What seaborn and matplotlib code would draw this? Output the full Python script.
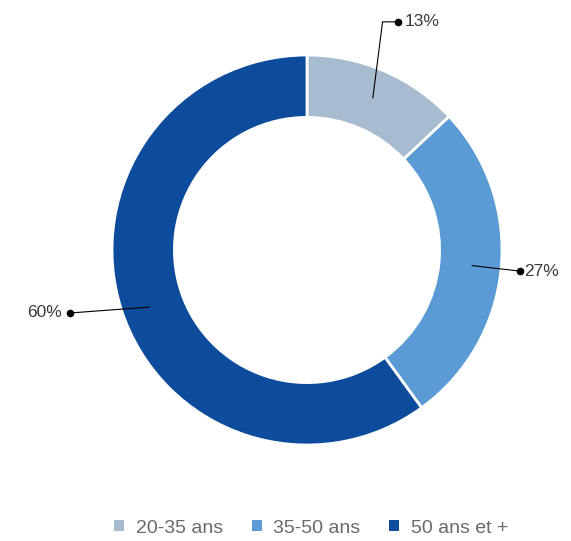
import numpy as np
import seaborn as sns
from matplotlib import pyplot as plt
from matplotlib.patches import Patch

categories = ["20-35 ans", "35-50 ans", "50 ans et +"]
values = [13, 27, 60]
colors = ["#a7bdcf", "#5b9bd5", "#0d4c9c"]

sns.set_theme(style="white")
plt.rcParams['font.family'] = ['Liberation Sans', 'DejaVu Sans']

W, H = 571, 541
cx, cy, R = 307, 250, 195
fig = plt.figure(figsize=(W / 100, H / 100), dpi=100)
ax = fig.add_axes([0, 0, 1, 1])

wedges, _ = ax.pie(values, colors=colors, startangle=90, counterclock=False,
                   radius=1, wedgeprops=dict(width=0.32, edgecolor="white", linewidth=2))
ax.set_xlim(-cx / R, (W - cx) / R)
ax.set_ylim(-(H - cy) / R, cy / R)
ax.set_aspect("auto")
ax.axis("off")

# leader lines from each wedge to a dot, then the label
starts = np.cumsum([0] + values[:-1])
for i, (v, s) in enumerate(zip(values, starts)):
    mid = np.deg2rad(90 - (s + v / 2) * 3.6)
    ax_, ay_ = 0.85 * np.cos(mid), 0.85 * np.sin(mid)
    if i == 0:
        pts = [(ax_, ay_), (ax_ + 0.05, 1.17), (0.467, 1.17)]
        tx, ha = 0.50, "left"
    elif i == 1:
        pts = [(ax_, ay_), (1.09, -0.108)]
        tx, ha = 1.115, "left"
    else:
        pts = [(ax_, ay_ - 0.03), (-1.215, -0.323)]
        tx, ha = -1.255, "right"
    xs, ys = zip(*pts)
    ax.plot(xs, ys, color="black", lw=0.8)
    ax.plot(xs[-1], ys[-1], "o", color="black", ms=4.5)
    ax.text(tx, ys[-1], f"{v}%", ha=ha, va="center", fontsize=12.5, color="#3a3a3a")

handles = [Patch(facecolor=c, edgecolor="none") for c in colors]
fig.legend(handles, categories, loc="center", bbox_to_anchor=(0.545, 0.024),
           ncol=3, frameon=False, fontsize=14, labelcolor="#6a6a6a",
           handlelength=0.5, handleheight=0.5, handletextpad=0.6, columnspacing=1.5)

fig.savefig("out.png", dpi=100)
